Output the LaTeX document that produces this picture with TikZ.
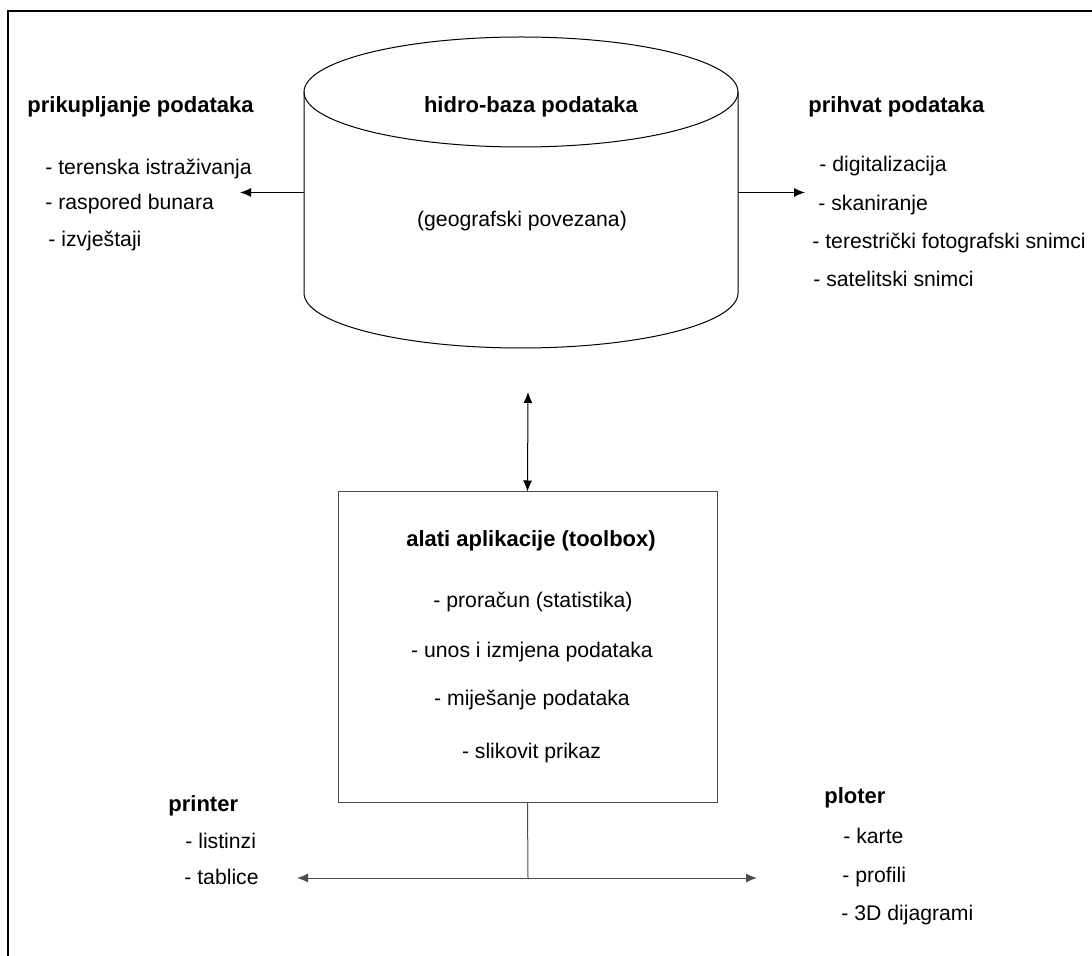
\documentclass[tikz,border=0pt]{standalone}
\usepackage{fontspec}
\setmainfont{Liberation Sans}
\usepackage{tikz}
\usetikzlibrary{arrows,arrows.meta,positioning}

\begin{document}
\begin{tikzpicture}[x=0.5pt,y=-0.5pt]
\tikzset{
    baza/.style={draw=black, line width=0.5pt},
    bloque/.style={rectangle, draw=black!70, line width=0.5pt, minimum width=189.5pt,
                   minimum height=155pt, inner sep=0pt},
    flecha/.style={->, >={Latex[length=5.5pt,width=4.5pt]}, line width=0.5pt},
    naslov/.style={font=\fontsize{11}{13}\selectfont\bfseries, inner sep=0pt, anchor=base west},
    stavka/.style={font=\fontsize{10.6}{12}\selectfont, inner sep=0pt, anchor=base west}
}
\useasboundingbox (0,0) rectangle (1092,956);
\draw[line width=1pt] (8,956) -- (8,11) -- (1092,11);

% baza podataka
\node[minimum width=217pt, minimum height=155.5pt, inner sep=0pt] (db) at (521,192.5) {};
\draw[baza] (521,92) ellipse [x radius=217, y radius=55];
\draw[baza] (304,92) -- (304,293) arc[start angle=180, end angle=0, x radius=217, y radius=55] -- (738,92);
\node[naslov, anchor=base] (dbnaslov) at (531,113) {hidro-baza podataka};
\node[stavka, anchor=base] (dbopis) at (522,227) {(geografski povezana)};

% prikupljanje
\node[naslov] (prik) at (27,113) {prikupljanje podataka};
\node[stavka] (prik1) at (45,175) {- terenska istraživanja};
\node[stavka] (prik2) at (45,210) {- raspored bunara};
\node[stavka] (prik3) at (48,247) {- izvještaji};
\coordinate (prikul) at (240,192.5);
\draw[flecha] (db.west) -- (prikul);

% prihvat
\node[naslov] (prih) at (808,113) {prihvat podataka};
\node[stavka] (prih1) at (819,172) {- digitalizacija};
\node[stavka] (prih2) at (818,211) {- skaniranje};
\node[stavka] (prih3) at (812,249) {- terestrički fotografski snimci};
\node[stavka] (prih4) at (813,287) {- satelitski snimci};
\coordinate (prihul) at (805,192.5);
\draw[flecha] (db.east) -- (prihul);

% toolbox
\node[bloque] (alati) at (527.5,647) {};
\node[naslov, anchor=base] (alatinaslov) at (531,546) {alati aplikacije (toolbox)};
\node[stavka, anchor=base] (alati1) at (533,608) {- proračun (statistika)};
\node[stavka, anchor=base] (alati2) at (532,657) {- unos i izmjena podataka};
\node[stavka, anchor=base] (alati3) at (532,705) {- miješanje podataka};
\node[stavka, anchor=base] (alati4) at (531.5,758) {- slikovit prikaz};
\coordinate (gore) at (528,392);
\draw[flecha, <->] (gore) -- (alati.north);

% izlaz
\coordinate (cvor) at (528,878);
\coordinate (lijevo) at (297,878);
\coordinate (desno) at (757,878);
\draw[black!70, line width=0.5pt] (alati.south) -- (cvor);
\draw[flecha, black!70] (cvor) -- (lijevo);
\draw[flecha, black!70] (cvor) -- (desno);

\node[naslov] (printer) at (168,811) {printer};
\node[stavka] (printer1) at (185,848) {- listinzi};
\node[stavka] (printer2) at (184,884) {- tablice};

\node[naslov] (ploter) at (824,803) {ploter};
\node[stavka] (ploter1) at (843,843) {- karte};
\node[stavka] (ploter2) at (842,882) {- profili};
\node[stavka] (ploter3) at (841,920) {- 3D dijagrami};

\end{tikzpicture}
\end{document}
